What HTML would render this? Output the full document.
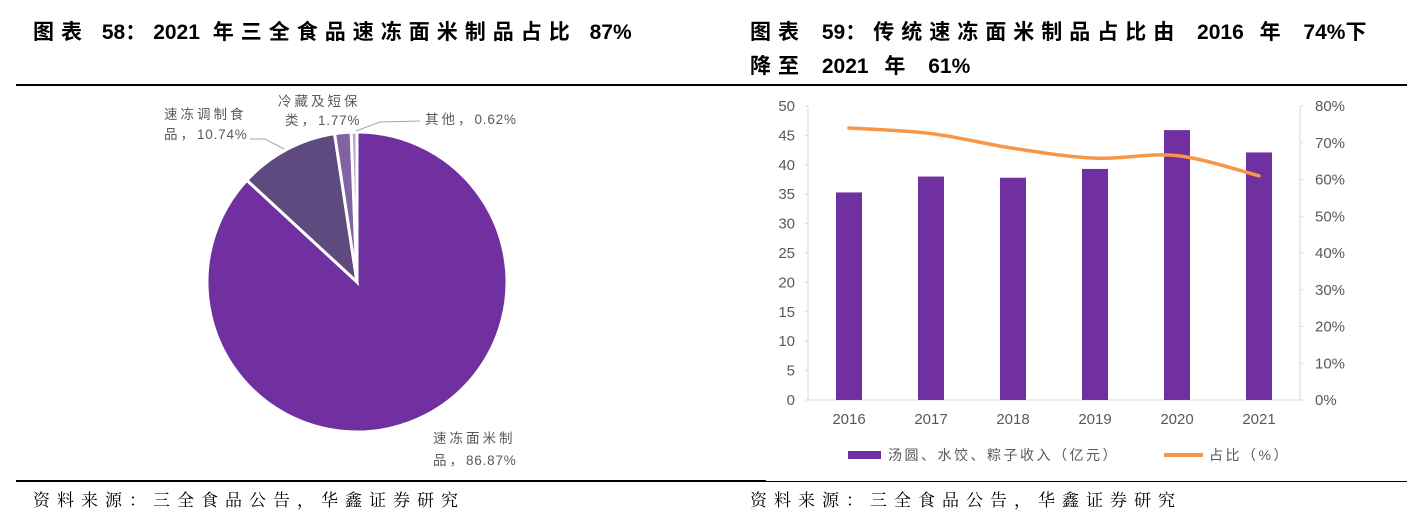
<!DOCTYPE html>
<html><head><meta charset="utf-8">
<style>
body{margin:0;width:1407px;height:529px;background:#fff;overflow:hidden;font-family:"Liberation Sans","Noto Sans CJK SC",sans-serif;}
.t{position:absolute;font-weight:bold;font-size:21px;color:#000;white-space:nowrap;}
.t .c{letter-spacing:7px;}
.f{position:absolute;font-size:17px;color:#000;white-space:nowrap;font-family:"Liberation Serif","Noto Serif CJK SC",serif;letter-spacing:7px;}
</style></head><body>
<div class="t" style="left:33px;top:16px;word-spacing:7px;"><span class="c">图表</span> 58<span class="c">：</span>2021 <span class="c">年三全食品速冻面米制品占比</span> 87%</div>
<div class="t" style="left:750px;top:16px;line-height:34px;word-spacing:10px;"><span class="c">图表</span> 59<span class="c">：传统速冻面米制品占比由</span> 2016 <span class="c">年</span> 74%<span class="c">下</span><br><span class="c">降至</span> 2021 <span class="c">年</span> 61%</div>
<div style="position:absolute;left:16px;top:84px;width:1391px;height:2px;background:#000;"></div>
<div style="position:absolute;left:16px;top:480px;width:750px;height:2px;background:#000;"></div>
<div style="position:absolute;left:766px;top:481px;width:641px;height:1px;background:#000;"></div>
<div class="f" style="left:33px;top:486px;">资料来源：三全食品公告，华鑫证券研究</div>
<div class="f" style="left:750px;top:486px;">资料来源：三全食品公告，华鑫证券研究</div>

<svg id="pie" style="position:absolute;left:0;top:0" width="740" height="480"></svg>
<svg id="bar" style="position:absolute;left:740px;top:0" width="667" height="480"></svg>

<script>
const pieLabels=["速冻面米制品","速冻调制食品","冷藏及短保类","其他"];
const pieValues=[86.87,10.74,1.77,0.62];
const years=["2016","2017","2018","2019","2020","2021"];
const revenue=[35.3,38.0,37.8,39.3,45.9,42.1];
const share=[74,72.5,68.5,65.8,66.5,61];
const leftTicks=[0,5,10,15,20,25,30,35,40,45,50];
const rightTicks=[0,10,20,30,40,50,60,70,80];

const NS="http://www.w3.org/2000/svg";
function mk(p,tag,attrs,txt){const e=document.createElementNS(NS,tag);for(const k in attrs)e.setAttribute(k,attrs[k]);if(txt!=null)e.textContent=txt;p.appendChild(e);return e;}

// PIE
const pie=document.getElementById('pie');
const cx=357,cy=282,R=150;
const colors=["#7030A0","#5E4A7E","#8064A2","#B4A7D6"];
const total=pieValues.reduce((a,b)=>a+b,0);
let ang=0;
pieValues.forEach((v,i)=>{
  const a0=ang,a1=ang+v/total*2*Math.PI;ang=a1;
  const x0=cx+R*Math.sin(a0),y0=cy-R*Math.cos(a0),x1=cx+R*Math.sin(a1),y1=cy-R*Math.cos(a1);
  const large=(a1-a0)>Math.PI?1:0;
  const p=mk(pie,'path',{d:`M${cx},${cy}L${x0},${y0}A${R},${R} 0 ${large} 1 ${x1},${y1}Z`,fill:colors[i],stroke:'#fff','stroke-width':3});
  
  
});
const pf='"Liberation Sans","Noto Sans CJK SC",sans-serif';
function ptxt(x,y,s,name){
  const t=mk(pie,'text',{x:x,y:y,'font-size':13.5,fill:'#595959','font-family':pf});
  
  
  (s.match(/[\u3000-\u9fff\uff00-\uffef]+|[^\u3000-\u9fff\uff00-\uffef]+/g)||[]).forEach(seg=>{
    const cjk=/[\u3000-\u9fff\uff00-\uffef]/.test(seg);
    mk(t,'tspan',{'letter-spacing':cjk?3:0.8},seg);
  });
}
ptxt(164,119,"速冻调制食","pie-label-prepared-food");
ptxt(164,139,"品，"+pieValues[1].toFixed(2)+"%","pie-label-prepared-food-value");
ptxt(278,106,"冷藏及短保","pie-label-chilled");
ptxt(285,125,"类，"+pieValues[2].toFixed(2)+"%","pie-label-chilled-value");
ptxt(425,124,"其他，"+pieValues[3].toFixed(2)+"%","pie-label-other");
ptxt(433,443,"速冻面米制","pie-label-noodle-rice");
ptxt(433,465,"品，"+pieValues[0].toFixed(2)+"%","pie-label-noodle-rice-value");
mk(pie,'polyline',{points:"250,139 265,139 284,149",fill:'none',stroke:'#a6a6a6'});
mk(pie,'polyline',{points:"420,121 380,122 356,131",fill:'none',stroke:'#a6a6a6'});

// BAR + LINE
const svg=document.getElementById('bar');
const x0=68,x1=560,yb=400,yt=106;
const yL=v=>yb-(v/50)*(yb-yt);
const yR=v=>yb-(v/80)*(yb-yt);
const step=(x1-x0)/years.length;
const xc=i=>x0+step*(i+0.5);
const font='"Liberation Sans","Noto Sans CJK SC",sans-serif';
mk(svg,'line',{x1:x0,y1:yt,x2:x0,y2:yb,stroke:'#d9d9d9'});
mk(svg,'line',{x1:x1,y1:yt,x2:x1,y2:yb,stroke:'#d9d9d9'});
mk(svg,'line',{x1:x0,y1:yb,x2:x1,y2:yb,stroke:'#d9d9d9'});
leftTicks.forEach(v=>{
  mk(svg,'line',{x1:x0-3,y1:yL(v),x2:x0,y2:yL(v),stroke:'#d9d9d9'});
  const t=mk(svg,'text',{x:x0-13,y:yL(v)+5,'text-anchor':'end','font-size':15,fill:'#595959','font-family':font},v);
  
  
});
rightTicks.forEach(v=>{
  mk(svg,'line',{x1:x1,y1:yR(v),x2:x1+3,y2:yR(v),stroke:'#d9d9d9'});
  const t=mk(svg,'text',{x:x1+15,y:yR(v)+5,'font-size':15,fill:'#595959','font-family':font},v+'%');
  
  
});
years.forEach((y,i)=>{
  const r=mk(svg,'rect',{x:xc(i)-13,y:yL(revenue[i]),width:26,height:yb-yL(revenue[i]),fill:'#7030A0'});
  
  
  const t=mk(svg,'text',{x:xc(i),y:yb+24,'text-anchor':'middle','font-size':15,fill:'#595959','font-family':font},y);
  
  
});
const pts=share.map((v,i)=>[xc(i),yR(v)]);
let d=`M${pts[0][0]},${pts[0][1]}`;
for(let i=0;i<pts.length-1;i++){
  const p0=pts[Math.max(i-1,0)],p1=pts[i],p2=pts[i+1],p3=pts[Math.min(i+2,pts.length-1)];
  const c1=[p1[0]+(p2[0]-p0[0])/6,p1[1]+(p2[1]-p0[1])/6],c2=[p2[0]-(p3[0]-p1[0])/6,p2[1]-(p3[1]-p1[1])/6];
  d+=`C${c1[0]},${c1[1]} ${c2[0]},${c2[1]} ${p2[0]},${p2[1]}`;
}
const ln=mk(svg,'path',{d:d,fill:'none',stroke:'#F79646','stroke-width':3.5,'stroke-linecap':'round'});


const lg1=mk(svg,'rect',{x:108,y:451,width:33,height:8,fill:'#7030A0'});


const lt1=mk(svg,'text',{x:148,y:460,'font-size':14,fill:'#595959','font-family':font,'letter-spacing':2.5},"汤圆、水饺、粽子收入（亿元）");


const lg2=mk(svg,'line',{x1:424,y1:455,x2:463,y2:455,stroke:'#F79646','stroke-width':4});


const lt2=mk(svg,'text',{x:469,y:460,'font-size':14,fill:'#595959','font-family':font,'letter-spacing':2.5},"占比（%）");


</script>
</body></html>
